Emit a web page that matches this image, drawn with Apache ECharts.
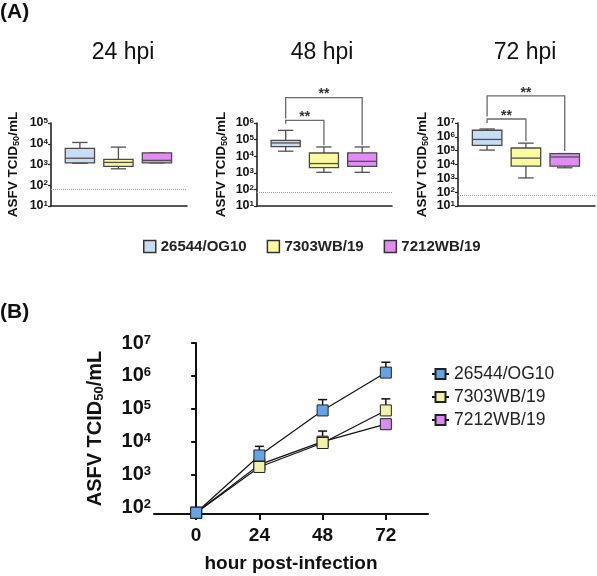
<!DOCTYPE html>
<html><head><meta charset="utf-8">
<script src="https://cdn.jsdelivr.net/npm/echarts@6/dist/echarts.min.js"></script>
<style>html,body{margin:0;padding:0;background:#fff}#c{width:597px;height:576px}</style>
</head><body><div id="c"></div>
<script>
// ---------- data ----------
const strains = ['26544/OG10', '7303WB/19', '7212WB/19'];
const panelTitles = ['24 hpi', '48 hpi', '72 hpi'];
const panelYMax = [1e5, 1e6, 1e7];
// box stats per strain: [min, Q1, median, Q3, max]
const box24 = [[1150, 1200, 2000, 6000, 11500], [620, 810, 1260, 1750, 6900], [1200, 1200, 1580, 3650, 3650]];
const box48 = [[20000, 38000, 63000, 91000, 360000], [1070, 2060, 3600, 15600, 36000], [1070, 2460, 4900, 16000, 36000]];
const box72 = [[110000, 240000, 650000, 3000000, 3700000], [1070, 7700, 29000, 156000, 350000], [5800, 7700, 35000, 61000, 62000]];
const detectionLimit = 63;
// significance brackets: [from strain, to strain, bar level, left leg end, right leg end, label]
const sig48 = [[0, 1, 1.45e6, 9.1e5, 4.6e4, '**'], [0, 2, 3.4e7, 1.86e6, 4.6e4, '**']];
const sig72 = [[0, 1, 1.95e7, 1.0e7, 4.9e5, '**'], [0, 2, 9.1e8, 3.0e7, 9.5e4, '**']];
// growth curve
const hours = [0, 24, 48, 72];
const meanOG10 = [69, 3800, 89000, 1260000];
const mean7303 = [69, 1700, 9100, 89000];
const mean7212 = [69, 2000, 10000, 34000];
const upperOG10 = [69, 7200, 190000, 2600000];
const upper7303 = [69, 2300, 21000, 200000];
const upper7212 = [69, 2800, 14000, 45000];
const yTicksB = [1e2, 1e3, 1e4, 1e5, 1e6, 1e7];
const xTicksB = [0, 24, 48, 72];

// ---------- styles ----------
const FF = '"Liberation Sans", Arial, Helvetica, sans-serif';
const boxColors = ['#c8dcf4', '#fcfaa0', '#e18cf5'];
const markerColors = ['#66a3e6', '#f0f2aa', '#d98cf2'];
const boxes = [box24, box48, box72];
const sigs = [[], sig48, sig72];
const means = [meanOG10, mean7303, mean7212];
const uppers = [upperOG10, upper7303, upper7212];

const gridsA = [
  {left: 51, top: 123, width: 136, height: 83},
  {left: 257, top: 123, width: 135, height: 83},
  {left: 458, top: 123, width: 137, height: 83}
];
const gridB = {left: 154, top: 343, width: 274, height: 171};

function supLabel(v) { return '{b|10}{s|' + Math.round(Math.log10(v)) + '}'; }

const xAxes = [], yAxes = [], series = [];
for (let i = 0; i < 3; i++) {
  xAxes.push({
    type: 'value', gridIndex: i, min: 0.25, max: 3.78,
    axisLine: {show: true, onZero: false, lineStyle: {color: '#222', width: 1.6}},
    axisTick: {show: false}, axisLabel: {show: false}, splitLine: {show: false}
  });
  yAxes.push({
    type: 'log', logBase: 10, gridIndex: i, min: 10, max: panelYMax[i],
    axisLine: {show: true, lineStyle: {color: '#222', width: 1.6}},
    axisTick: {show: true, length: 3, lineStyle: {color: '#222', width: 1.2}},
    splitLine: {show: false},
    axisLabel: {
      margin: 3, formatter: supLabel,
      rich: {
        b: {fontSize: 12.5, fontWeight: 'bold', color: '#111', fontFamily: FF},
        s: {fontSize: 8, fontWeight: 'bold', color: '#111', fontFamily: FF, padding: [0, 0, 4, 0]}
      }
    },
    name: 'ASFV TCID{sub|50}/mL', nameLocation: 'middle', nameRotate: 90,
    nameGap: [30, 28, 28][i],
    nameTextStyle: {
      fontSize: 13.5, fontWeight: 'bold', color: '#111', fontFamily: FF,
      rich: {sub: {fontSize: 9, fontWeight: 'bold', color: '#111', fontFamily: FF, padding: [6, 0, 0, 0]}}
    }
  });
  // one box series per strain per panel
  for (let k = 0; k < 3; k++) {
    const s = {
      type: 'custom', name: strains[k], xAxisIndex: i, yAxisIndex: i,
      itemStyle: {color: boxColors[k], borderColor: '#333', borderWidth: 1.5},
      encode: {x: 0, y: [1, 2, 3, 4, 5]},
      data: [[k + 1].concat(boxes[i][k])],
      silent: true,
      renderItem: (function (col) {
        return function (params, api) {
          const x = api.value(0);
          const v = [1, 2, 3, 4, 5].map(function (d) { return api.value(d); });
          const hb = 0.38, hc = 0.2;
          const L = api.coord([x - hb, v[2]])[0], R = api.coord([x + hb, v[2]])[0];
          const cL = api.coord([x - hc, v[2]])[0], cR = api.coord([x + hc, v[2]])[0];
          const cx = api.coord([x, v[2]])[0];
          const yMin = api.coord([x, v[0]])[1], yQ1 = api.coord([x, v[1]])[1];
          const yMed = api.coord([x, v[2]])[1], yQ3 = api.coord([x, v[3]])[1];
          const yMax = api.coord([x, v[4]])[1];
          const ls = {stroke: '#505050', lineWidth: 1.3, fill: null};
          return {type: 'group', children: [
            {type: 'line', shape: {x1: cx, y1: yMax, x2: cx, y2: yQ3}, style: ls},
            {type: 'line', shape: {x1: cx, y1: yQ1, x2: cx, y2: yMin}, style: ls},
            {type: 'line', shape: {x1: cL, y1: yMax, x2: cR, y2: yMax}, style: ls},
            {type: 'line', shape: {x1: cL, y1: yMin, x2: cR, y2: yMin}, style: ls},
            {type: 'rect', shape: {x: L, y: yQ3, width: R - L, height: yQ1 - yQ3},
              style: {fill: col, stroke: '#4a4a4a', lineWidth: 1.3}},
            {type: 'line', shape: {x1: L, y1: yMed, x2: R, y2: yMed}, style: ls}
          ]};
        };
      })(boxColors[k])
    };
    if (k === 0) {
      s.markLine = {
        silent: true, symbol: 'none', label: {show: false},
        lineStyle: {type: 'dotted', color: '#9a9a9a', width: 1},
        data: [{yAxis: detectionLimit}]
      };
    }
    series.push(s);
  }
  if (sigs[i].length) {
    series.push({
      type: 'custom', xAxisIndex: i, yAxisIndex: i, clip: false, silent: true,
      encode: {x: 0, y: 2},
      data: sigs[i].map(function (b) { return [b[0] + 1, b[1] + 1, b[2], b[3], b[4], b[5]]; }),
      renderItem: function (params, api) {
        const x1 = api.value(0), x2 = api.value(1);
        const bar = api.value(2), le = api.value(3), re = api.value(4);
        const pL = api.coord([x1, bar]), pR = api.coord([x2, bar]);
        const yl = api.coord([x1, le])[1], yr = api.coord([x2, re])[1];
        const txt = sigs[i][params.dataIndex][5];
        return {type: 'group', children: [
          {type: 'polyline', shape: {points: [[pL[0], yl], pL, pR, [pR[0], yr]]},
            style: {stroke: '#6a6a6a', lineWidth: 1.3, fill: null}},
          {type: 'text', style: {text: txt, x: (pL[0] + pR[0]) / 2, y: pL[1] - 3,
            align: 'center', verticalAlign: 'middle', font: 'bold 14px ' + FF, fill: '#333'}}
        ]};
      }
    });
  }
}

// growth curve axes
xAxes.push({
  type: 'value', gridIndex: 3, min: -16, max: 88,
  axisLine: {show: true, onZero: false, lineStyle: {color: '#111', width: 2}},
  axisTick: {show: true, length: 6, customValues: xTicksB, lineStyle: {color: '#111', width: 2}},
  axisLabel: {customValues: xTicksB, margin: 12, fontSize: 19, fontWeight: 'bold', color: '#111', fontFamily: FF},
  splitLine: {show: false},
  name: 'hour post-infection', nameLocation: 'middle', nameGap: 40,
  nameTextStyle: {fontSize: 19, fontWeight: 'bold', color: '#111', fontFamily: FF}
});
yAxes.push({
  type: 'log', logBase: 10, gridIndex: 3, min: Math.pow(10, 1.8), max: 1e7,
  axisLine: {show: true, lineStyle: {color: '#111', width: 2}},
  axisTick: {show: true, length: 5, customValues: yTicksB, lineStyle: {color: '#111', width: 2}},
  splitLine: {show: false},
  axisLabel: {
    customValues: yTicksB, margin: 3, formatter: supLabel,
    rich: {
      b: {fontSize: 20, fontWeight: 'bold', color: '#111', fontFamily: FF},
      s: {fontSize: 13, fontWeight: 'bold', color: '#111', fontFamily: FF, padding: [0, 0, 6, 0]}
    }
  },
  name: 'ASFV TCID{sub|50}/mL', nameLocation: 'middle', nameRotate: 90, nameGap: 48,
  nameTextStyle: {
    fontSize: 20, fontWeight: 'bold', color: '#111', fontFamily: FF,
    rich: {sub: {fontSize: 13, fontWeight: 'bold', color: '#111', fontFamily: FF, padding: [9, 0, 0, 0]}}
  }
});

// error bars (upper only)
const errData = [];
for (let k = 0; k < 3; k++) for (let j = 0; j < hours.length; j++) errData.push([hours[j], means[k][j], uppers[k][j]]);
series.push({
  type: 'custom', xAxisIndex: 3, yAxisIndex: 3, silent: true, z: 1,
  encode: {x: 0, y: [1, 2]}, data: errData,
  renderItem: function (params, api) {
    const x = api.value(0);
    const p0 = api.coord([x, api.value(1)]), p1 = api.coord([x, api.value(2)]);
    const hw = 4.5;
    const st = {stroke: '#111', lineWidth: 1.5, fill: null};
    return {type: 'group', children: [
      {type: 'line', shape: {x1: p0[0], y1: p0[1], x2: p1[0], y2: p1[1]}, style: st},
      {type: 'line', shape: {x1: p1[0] - hw, y1: p1[1], x2: p1[0] + hw, y2: p1[1]}, style: st}
    ]};
  }
});
// lines: draw purple, yellow, then blue on top
[2, 1, 0].forEach(function (k) {
  series.push({
    type: 'line', name: strains[k] + '\u200b', xAxisIndex: 3, yAxisIndex: 3,
    data: hours.map(function (h, j) { return [h, means[k][j]]; }),
    symbol: 'rect', symbolSize: 11, z: 5 + (2 - k),
    itemStyle: {color: markerColors[k], borderColor: '#222', borderWidth: 1},
    lineStyle: {color: '#111', width: 1.2}
  });
});

const chart = echarts.init(document.getElementById('c'), null, {renderer: 'canvas'});
chart.setOption({
  animation: false,
  backgroundColor: '#fff',
  grid: gridsA.concat([gridB]).map(function (g) { return Object.assign({containLabel: false}, g); }),
  xAxis: xAxes,
  yAxis: yAxes,
  legend: [
    {
      data: strains, left: 138, top: 234, icon: 'rect', itemWidth: 12, itemHeight: 12, itemGap: 20,
      selectedMode: false,
      itemStyle: {borderColor: '#333', borderWidth: 1.5},
      textStyle: {fontSize: 15, fontWeight: 'bold', color: '#222', fontFamily: FF}
    },
    {
      data: strains.map(function (s) { return s + '\u200b'; }),
      orient: 'vertical', left: 426, top: 360, itemWidth: 17, itemHeight: 12.5, itemGap: 5,
      selectedMode: false,
      formatter: function (n) { return n.replace('\u200b', ''); },
      textStyle: {fontSize: 17.5, color: '#222', fontFamily: FF}
    }
  ],
  graphic: [
    {type: 'text', x: 0, y: 12, style: {text: '(A)', font: 'bold 21px ' + FF, fill: '#111', align: 'left', verticalAlign: 'middle'}},
    {type: 'text', x: 0, y: 312, style: {text: '(B)', font: 'bold 21px ' + FF, fill: '#111', align: 'left', verticalAlign: 'middle'}}
  ].concat(panelTitles.map(function (t, i) {
    return {type: 'text', x: [123, 322, 525][i], y: 53,
      style: {text: t, font: '23px ' + FF, fill: '#111', align: 'center', verticalAlign: 'middle'}};
  })),
  series: series
});
</script>
</body></html>
